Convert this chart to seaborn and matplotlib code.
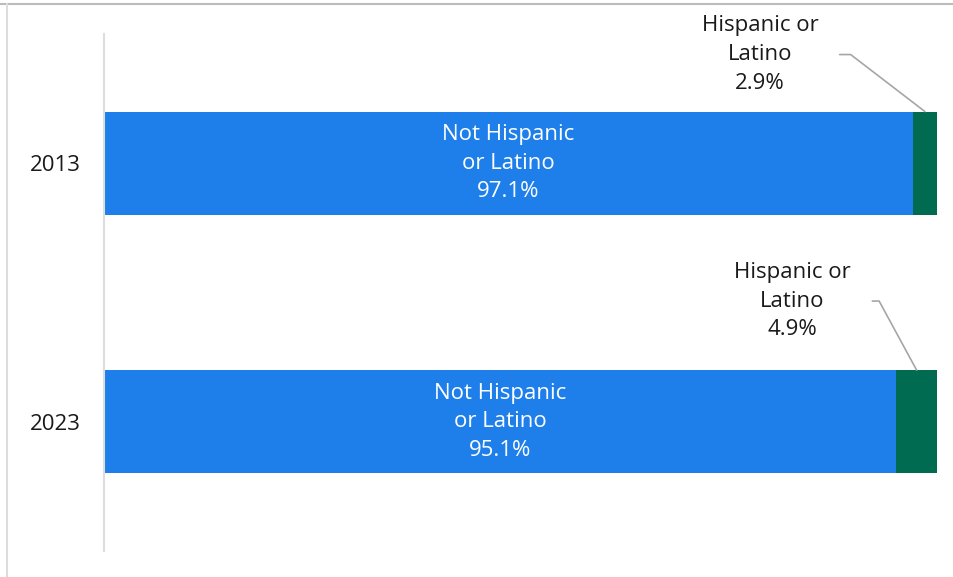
import matplotlib.pyplot as plt
import pandas as pd
import seaborn as sns
from matplotlib.lines import Line2D

YEARS = ["2013", "2023"]
NOT_HISPANIC = [97.1, 95.1]
HISPANIC = [2.9, 4.9]
NOT_HISPANIC_LABEL = "Not Hispanic\nor Latino"
HISPANIC_LABEL = "Hispanic or\nLatino"

BLUE = "#1e7feb"
GREEN = "#006b50"
TEXT = "#1a1a1a"
FONT_SIZE = 16
LINE_SPACING = 1.48

# where the outside labels sit, relative to the top of each green segment
LABEL_OFFSETS = [(-165, 57), (-124, 69)]
LEADER_ANGLES = [142.5, 118.5]

sns.set_theme(style="white")
plt.rcParams["font.family"] = ["Open Sans", "DejaVu Sans"]

df = pd.DataFrame({"year": YEARS, "not_hispanic": NOT_HISPANIC, "hispanic": HISPANIC})
df["total"] = df["not_hispanic"] + df["hispanic"]

fig = plt.figure(figsize=(9.54, 5.77), dpi=100)
ax = fig.add_axes([104 / 954, 1 - 551 / 577, (937 - 104) / 954, (551 - 34) / 577])

sns.barplot(data=df, x="total", y="year", orient="h", color=GREEN, width=0.4,
            saturation=1, ax=ax, edgecolor="none")
sns.barplot(data=df, x="not_hispanic", y="year", orient="h", color=BLUE, width=0.4,
            saturation=1, ax=ax, edgecolor="none")

ax.set_xlim(0, 100)
ax.set_ylim(1.5, -0.5)
ax.set_xlabel("")
ax.set_ylabel("")
ax.set_xticks([])
ax.tick_params(axis="y", length=0, pad=17, labelsize=FONT_SIZE, labelcolor=TEXT)
for side in ["top", "right", "bottom"]:
    ax.spines[side].set_visible(False)
ax.spines["left"].set_color("#dddddd")
ax.spines["left"].set_linewidth(1.5)

for i, row in df.iterrows():
    ax.text(row["not_hispanic"] / 2, i, f"{NOT_HISPANIC_LABEL}\n{row['not_hispanic']:.1f}%",
            ha="center", va="center", color="white", fontsize=FONT_SIZE,
            linespacing=LINE_SPACING)
    dx, dy = LABEL_OFFSETS[i]
    ax.annotate(f"{HISPANIC_LABEL}\n{row['hispanic']:.1f}%",
                xy=(row["not_hispanic"] + row["hispanic"] / 2, i - 0.2),
                xytext=(dx, dy), textcoords="offset pixels",
                ha="center", va="center", color=TEXT, fontsize=FONT_SIZE,
                linespacing=LINE_SPACING,
                arrowprops=dict(arrowstyle="-", color="#a6a6a6", lw=1.2, shrinkA=13, shrinkB=0,
                                relpos=(1, 0.5),
                                connectionstyle=f"angle,angleA=0,angleB={LEADER_ANGLES[i]},rad=0"))

# frame lines of the original panel
fig.add_artist(Line2D([0, 1], [1 - 4 / 577, 1 - 4 / 577], color="#bbbbbb", lw=1.5))
fig.add_artist(Line2D([7 / 954, 7 / 954], [0, 1 - 4 / 577], color="#dddddd", lw=1.5))

fig.savefig("out.png", dpi=100)
